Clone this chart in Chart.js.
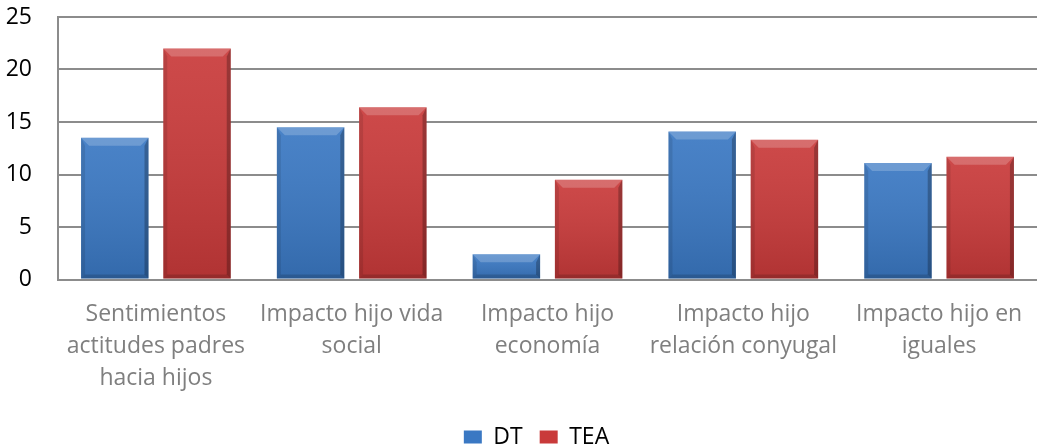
<!DOCTYPE html>
<html>
<head>
<meta charset="utf-8">
<script src="https://cdn.jsdelivr.net/npm/chart.js@4.4.0/dist/chart.umd.min.js"></script>
<style>
  html, body { margin: 0; padding: 0; background: #fff; }
  #wrap { width: 1048px; height: 447px; position: relative; }
</style>
</head>
<body>
<div id="wrap"><canvas id="chart"></canvas></div>
<script>
// categories (multi-line labels as shown under the axis)
var categories = [
  ["Sentimientos", "actitudes padres", "hacia hijos"],
  ["Impacto hijo vida", "social"],
  ["Impacto hijo", "economía"],
  ["Impacto hijo", "relación conyugal"],
  ["Impacto hijo en", "iguales"]
];
var dtValues  = [13.5, 14.5, 2.4, 14.1, 11.1];
var teaValues = [22.0, 16.4, 9.5, 13.3, 11.7];
var yTicks = [0, 5, 10, 15, 20, 25];

var blue = "#3A78C3";
var red = "#C93A3A";

// bevel / shading drawn over each bar, using the bar's own coordinates
var bevelPlugin = {
  id: "bevel",
  afterLayout: function (chart) {
    // legend is centred a bit left of the plot in the original
    chart.legend.left = 36;
    chart.legend.right = 1037;
  },
  afterDatasetsDraw: function (chart) {
    var c = chart.ctx;
    chart.data.datasets.forEach(function (ds, i) {
      var meta = chart.getDatasetMeta(i);
      meta.data.forEach(function (el) {
        var l = el.x - el.width / 2, r = el.x + el.width / 2;
        var t = el.y, b = el.base;
        var h = b - t;
        var bv = Math.min(8, h / 2);
        var sv = Math.min(4, h / 2);
        c.save();
        // vertical darkening
        var g = c.createLinearGradient(0, t, 0, b);
        g.addColorStop(0, "rgba(255,255,255,0.08)");
        g.addColorStop(1, "rgba(0,0,0,0.12)");
        c.fillStyle = g;
        c.fillRect(l, t, r - l, h);
        // top bevel
        c.beginPath();
        c.moveTo(l, t); c.lineTo(r, t); c.lineTo(r - bv, t + bv); c.lineTo(l + bv, t + bv); c.closePath();
        c.fillStyle = "rgba(255,255,255,0.2)";
        c.fill();
        // left side
        c.beginPath();
        c.moveTo(l, t); c.lineTo(l + sv, t + bv); c.lineTo(l + sv, b - sv); c.lineTo(l, b); c.closePath();
        c.fillStyle = "rgba(0,0,0,0.10)";
        c.fill();
        // right side
        c.beginPath();
        c.moveTo(r, t); c.lineTo(r - sv, t + bv); c.lineTo(r - sv, b - sv); c.lineTo(r, b); c.closePath();
        c.fillStyle = "rgba(0,0,0,0.25)";
        c.fill();
        // bottom edge
        c.beginPath();
        c.moveTo(l, b); c.lineTo(r, b); c.lineTo(r - sv, b - sv); c.lineTo(l + sv, b - sv); c.closePath();
        c.fillStyle = "rgba(0,0,0,0.15)";
        c.fill();
        c.restore();
      });
    });
  }
};

new Chart(document.getElementById("chart"), {
  type: "bar",
  data: {
    labels: categories,
    datasets: [
      { label: "DT", data: dtValues, backgroundColor: blue, borderWidth: 0 },
      { label: "TEA", data: teaValues, backgroundColor: red, borderWidth: 0 }
    ]
  },
  plugins: [bevelPlugin],
  options: {
    responsive: true,
    maintainAspectRatio: false,
    animation: false,
    devicePixelRatio: 1,
    layout: { padding: { top: 0, right: 11, left: 0, bottom: -11.5 } },
    datasets: {
      bar: { categoryPercentage: 0.84, barPercentage: 0.82 }
    },
    scales: {
      x: {
        afterFit: function (axis) { axis.height = 129; },
        grid: { display: false, drawTicks: false },
        border: { display: false },
        ticks: {
          color: "#7F7F7F",
          font: { family: "Open Sans", size: 23, lineHeight: 1.39 },
          maxRotation: 0,
          autoSkip: false,
          padding: 19
        }
      },
      y: {
        min: 0,
        max: 25,
        afterBuildTicks: function (axis) {
          axis.ticks = yTicks.map(function (v) { return { value: v }; });
        },
        afterFit: function (axis) {
          axis.width = 58;
          axis.paddingTop = 17;
          axis.paddingBottom = 12;
        },
        grid: { color: "#8C8C8C", lineWidth: 2, drawTicks: false },
        border: { display: true, color: "#8C8C8C", width: 2 },
        ticks: {
          color: "#000",
          font: { family: "Open Sans", size: 23, lineHeight: 1 },
          padding: 26
        }
      }
    },
    plugins: {
      legend: {
        position: "bottom",
        labels: {
          color: "#000",
          font: { family: "Open Sans", size: 23, lineHeight: 1 },
          boxWidth: 18,
          boxHeight: 13,
          padding: 17
        }
      },
      tooltip: { enabled: false }
    }
  }
});
</script>
</body>
</html>
